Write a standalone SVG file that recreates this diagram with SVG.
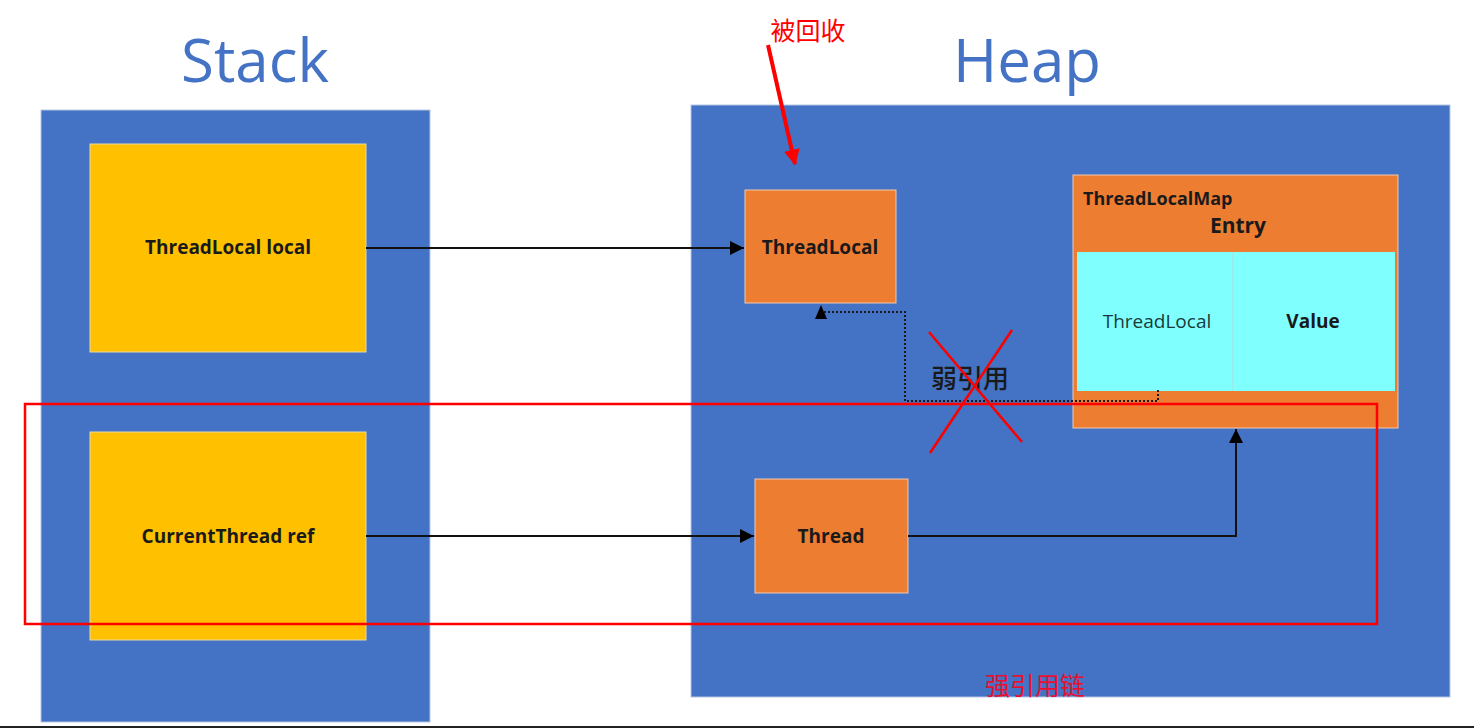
<svg xmlns="http://www.w3.org/2000/svg" width="1474" height="728" viewBox="0 0 1474 728">
<style>
.title{font-family:"Open Sans","Liberation Sans",sans-serif;font-size:60px;fill:#4472C4;text-anchor:middle}
.lbl{font-family:"Open Sans","Liberation Sans",sans-serif;font-weight:bold;font-size:19px;fill:#1a1a1a;text-anchor:middle;dominant-baseline:central}
.cjk{font-family:"Noto Sans CJK SC",sans-serif}
.panel{fill:#4472C4;stroke:#b8c6e3;stroke-width:1}
.stackbox{fill:#FFC000;stroke:#e8d9a8;stroke-width:1}
.heapbox{fill:#ED7D31;stroke:#f3c9ae;stroke-width:1}
.conn{stroke:#111;stroke-width:2;fill:none}
</style>
<defs>
<marker id="ahb" viewBox="0 0 10 10" refX="10" refY="5" markerWidth="16" markerHeight="14" markerUnits="userSpaceOnUse" orient="auto"><path d="M0,0 L10,5 L0,10 z" fill="#000"/></marker>
<marker id="ahr" viewBox="0 0 10 10" refX="9" refY="5" markerWidth="16" markerHeight="16" markerUnits="userSpaceOnUse" orient="auto"><path d="M0,0 L10,5 L0,10 z" fill="#f00"/></marker>
</defs>
<rect width="1474" height="728" fill="#fff"/>
<text class="title" x="255" y="82">Stack</text>
<text class="title" x="1027" y="82">Heap</text>
<g id="stack"><rect class="panel" x="41" y="110" width="389" height="612"/></g>
<g id="heap"><rect class="panel" x="691" y="105" width="759" height="592"/></g>
<g id="threadlocal-local"><rect class="stackbox" x="90" y="144" width="276" height="208"/><text class="lbl" x="228" y="247">ThreadLocal local</text></g>
<g id="currentthread-ref"><rect class="stackbox" x="90" y="432" width="276" height="208"/><text class="lbl" x="228" y="536">CurrentThread ref</text></g>
<g id="threadlocal"><rect class="heapbox" x="745" y="190" width="151" height="113"/><text class="lbl" x="820" y="247">ThreadLocal</text></g>
<g id="thread"><rect class="heapbox" x="755" y="479" width="153" height="114"/><text class="lbl" x="831" y="536">Thread</text></g>
<g id="threadlocalmap">
<rect class="heapbox" x="1073" y="175" width="325" height="253"/>
<text x="1083" y="205" style="font-family:'Open Sans','Liberation Sans',sans-serif;font-weight:bold;font-size:18px;fill:#1a1a1a">ThreadLocalMap</text>
<text x="1238" y="233" style="font-family:'Open Sans','Liberation Sans',sans-serif;font-weight:bold;font-size:21px;fill:#1a1a1a;text-anchor:middle">Entry</text>
<rect x="1077" y="252" width="318" height="139" fill="#80FFFF"/>
<line x1="1233" y1="252" x2="1233" y2="391" stroke="#b8d8d8" stroke-width="1"/>
<text x="1157" y="321" style="font-family:'Open Sans','Liberation Sans',sans-serif;font-size:19px;fill:#1a3a3a;text-anchor:middle;dominant-baseline:central">ThreadLocal</text>
<text x="1313" y="321" style="font-family:'Open Sans','Liberation Sans',sans-serif;font-weight:bold;font-size:19px;fill:#1a1a1a;text-anchor:middle;dominant-baseline:central">Value</text>
</g>
<g id="connectors">
<line class="conn" x1="366" y1="248" x2="744" y2="248" marker-end="url(#ahb)"/>
<line class="conn" x1="366" y1="536" x2="754" y2="536" marker-end="url(#ahb)"/>
<path class="conn" d="M908,536 H1236 V429" marker-end="url(#ahb)"/>
<path d="M1158,390 V401 H905 V312 H824" fill="none" stroke="#1a1a1a" stroke-width="2" stroke-dasharray="2,2"/>
<polygon points="815,319 827,319 821,305" fill="#000"/>
<line x1="768" y1="45" x2="795" y2="164" stroke="#f00" stroke-width="4" marker-end="url(#ahr)"/>
</g>
<text x="931" y="388" class="cjk" style="font-size:26px;font-weight:500;fill:#1a1a1a">弱引用</text>
<g id="cross" stroke="#f00" stroke-width="2.5">
<line x1="929" y1="332" x2="1022" y2="442"/>
<line x1="1012" y1="330" x2="930" y2="453"/>
</g>
<rect x="25" y="404" width="1352" height="220" fill="none" stroke="#f00" stroke-width="2.5"/>
<text x="808" y="40" class="cjk" style="font-size:25px;fill:#f00;text-anchor:middle">被回收</text>
<text x="1035" y="695" class="cjk" style="font-size:25px;fill:#e81030;text-anchor:middle">强引用链</text>
<line x1="0" y1="727" x2="1474" y2="727" stroke="#222" stroke-width="2"/>
</svg>
